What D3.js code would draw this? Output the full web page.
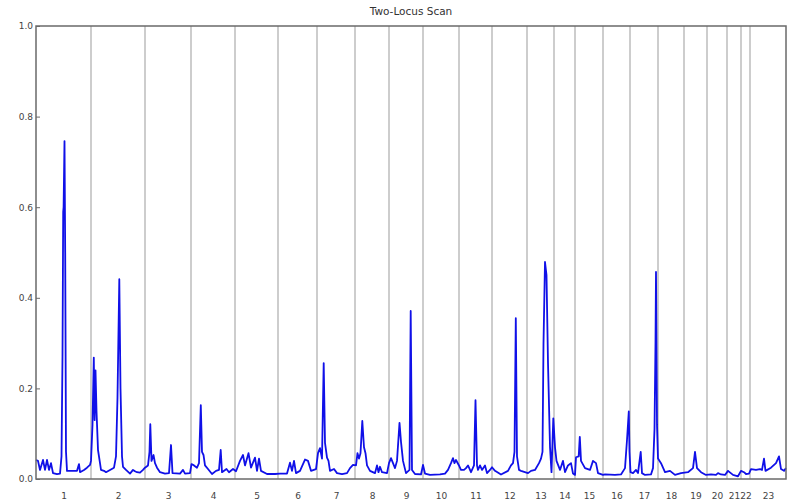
<!DOCTYPE html>
<html>
<head>
<meta charset="utf-8">
<script src="https://cdn.jsdelivr.net/npm/d3@7"></script>
<style>
  body { margin: 0; background: #fff; }
  text { font-family: "DejaVu Sans", sans-serif; }
</style>
</head>
<body>
<div id="chart"></div>
<script>
// chromosomes and number of markers in each one
const chromosomes = ["1","2","3","4","5","6","7","8","9","10","11","12","13","14","15","16","17","18","19","20","21","22","23"];
const chromSizes = [55,54,46,44,43,39,38,34,34,36,33,35,27,21,28,27,28,26,23,20,14,9,36];

const yTicks = [0.0, 0.2, 0.4, 0.6, 0.8, 1.0];

// scan result: marker position (cumulative) and value, one line per chromosome
const scanPos = [
  0,2,4,7,9,11,13,15,17,21,24,25.5,26.5,27.2,27.6,28.5,29.2,30,31,41,43,44,48,51,54,
  55,56.5,57.8,58.6,59.5,60.5,62,64,65,68,70,74,78,80,81.5,83.3,84.5,86,87,90,94,97,99,101,104,107,109,
  112,113.5,114.3,115.5,117.5,119,121,124,129,133,135,136.5,144,147,149,154,
  155.5,158,161,163,164.8,166,167.5,169,172,176,180,183,184.7,186,190.5,193,197,200,
  204,207,209,212.5,215,219,221,223,225,231,239,244,
  251,254,256,258,260,264,269,272,275,280,
  282,284,286,287.7,289,291,292.5,294,298,301,306,311,314,317,
  320,321.5,323,324.5,326.3,328,329.5,331,334,339,341,342.5,344,346,351,
  353,355,357,359,361,363.5,365,367,370,373.5,374.7,376,379,385,387,
  389,394,404,409,412,415,417,418.5,420,422.7,
  425,428,430,432,435,438,439.5,441,442,444,446,449,451,454,456,
  459,465,472,475,477,478.5,479.8,481,483,485,492,
  495,499,503,505,506.5,507.5,509,510.5,512,514,515.5,517.3,
  519,520.5,524,527,529,532,535,537,539,
  540,542.7,543.8,545,549,554,557,560,562,567,
  569,579,585,589,591,592.8,593.5,594.5,
  597,600,602,604.7,606,609,615,617,618.5,619.5,620,621,622,
  625,629,634,639,645,
  652,657,659,661,665,670,
  675,680,682,685,689,
  692,697,702,
  705,708,710,713,
  715,720,724,726,728,729.5,735,740,743,745,748,750
];
const scanValue = [
  0.042,0.040,0.020,0.042,0.020,0.042,0.020,0.035,0.013,0.011,0.012,0.050,0.270,0.590,0.600,0.746,0.500,0.060,0.018,0.018,0.033,0.015,0.020,0.025,0.031,
  0.040,0.120,0.268,0.130,0.240,0.150,0.064,0.035,0.020,0.018,0.015,0.020,0.025,0.050,0.180,0.441,0.200,0.050,0.027,0.020,0.012,0.020,0.017,0.015,0.014,0.020,0.025,
  0.030,0.060,0.121,0.040,0.053,0.035,0.025,0.015,0.012,0.013,0.075,0.013,0.012,0.020,0.012,0.013,
  0.033,0.030,0.025,0.035,0.163,0.060,0.053,0.030,0.022,0.011,0.018,0.020,0.064,0.015,0.022,0.015,0.022,0.017,
  0.040,0.053,0.030,0.057,0.025,0.047,0.018,0.045,0.018,0.011,0.011,0.012,
  0.012,0.036,0.018,0.040,0.013,0.018,0.043,0.040,0.018,0.022,
  0.057,0.068,0.045,0.256,0.080,0.047,0.040,0.018,0.022,0.013,0.011,0.013,0.024,0.031,
  0.030,0.057,0.045,0.057,0.128,0.070,0.057,0.030,0.018,0.013,0.030,0.015,0.027,0.015,0.013,
  0.035,0.046,0.035,0.024,0.040,0.124,0.082,0.040,0.013,0.020,0.371,0.020,0.011,0.010,0.031,
  0.012,0.009,0.010,0.012,0.020,0.035,0.046,0.035,0.042,0.031,
  0.020,0.020,0.024,0.030,0.015,0.030,0.174,0.030,0.020,0.030,0.020,0.030,0.013,0.020,0.026,
  0.018,0.010,0.018,0.030,0.035,0.060,0.355,0.050,0.020,0.018,0.013,
  0.018,0.020,0.035,0.045,0.060,0.300,0.479,0.450,0.256,0.071,0.015,0.134,
  0.070,0.040,0.020,0.040,0.015,0.030,0.035,0.012,0.009,
  0.048,0.050,0.093,0.040,0.024,0.020,0.040,0.035,0.013,0.009,
  0.010,0.009,0.010,0.024,0.086,0.149,0.060,0.015,
  0.013,0.020,0.013,0.060,0.013,0.009,0.010,0.024,0.110,0.300,0.457,0.120,0.045,
  0.035,0.015,0.018,0.009,0.013,
  0.015,0.024,0.060,0.024,0.015,0.009,
  0.010,0.009,0.013,0.010,0.009,
  0.018,0.009,0.006,
  0.018,0.015,0.011,0.012,
  0.022,0.020,0.022,0.020,0.045,0.018,0.025,0.035,0.050,0.022,0.018,0.024
];

const config = { div: "#chart", width: 750, height: 453, top: 26, right: 2, bottom: 23, left: 36 };

const svg = d3.select(config.div)
  .append("svg")
  .attr("width", config.width + config.left + config.right)
  .attr("height", config.height + config.top + config.bottom);

const g = svg.append("g")
  .attr("transform", `translate(${config.left},${config.top})`);

// boundaries between chromosomes and their midpoints
const bounds = [0];
chromSizes.forEach(s => bounds.push(bounds[bounds.length - 1] + s));
const centers = chromSizes.map((s, i) => bounds[i] + s / 2);

const xScale = d3.scaleLinear().domain([0, bounds[bounds.length - 1]]).range([0, config.width]);
const yScale = d3.scaleLinear().domain([0, 1]).range([config.height, 0]);

// vertical lines at chromosome boundaries
g.append("g")
  .selectAll("line")
  .data(bounds.slice(1, -1))
  .join("line")
  .attr("x1", d => xScale(d)).attr("x2", d => xScale(d))
  .attr("y1", 0).attr("y2", config.height)
  .attr("stroke", "#bdbdbd")
  .attr("stroke-width", 1.5);

// scan line
const points = scanPos.map((p, i) => [p, scanValue[i]]);
g.append("path")
  .datum(points)
  .attr("fill", "none")
  .attr("stroke", "#1010e8")
  .attr("stroke-width", 1.8)
  .attr("stroke-linejoin", "round")
  .attr("d", d3.line().x(d => xScale(d[0])).y(d => yScale(d[1])));

// frame
g.append("rect")
  .attr("width", config.width).attr("height", config.height)
  .attr("fill", "none")
  .attr("stroke", "#6a6a6a")
  .attr("stroke-width", 1.5);

// axes
const yAxis = d3.axisLeft(yScale).tickValues(yTicks).tickFormat(d3.format(".1f")).tickSize(-4).tickPadding(3);
const xAxis = d3.axisBottom(xScale).tickValues(centers).tickFormat((d, i) => chromosomes[i]).tickSize(0).tickPadding(14);

const yg = g.append("g").call(yAxis);
const xg = g.append("g").attr("transform", `translate(0,${config.height})`).call(xAxis);

[yg, xg].forEach(a => {
  a.select(".domain").remove();
  a.selectAll(".tick line").attr("stroke", "#6a6a6a");
  a.selectAll("text").attr("fill", "#444").attr("font-size", 9).attr("font-family", "DejaVu Sans, sans-serif");
});

svg.append("text")
  .attr("x", config.left + config.width / 2)
  .attr("y", 15)
  .attr("text-anchor", "middle")
  .attr("font-size", 10.5)
  .attr("fill", "#333")
  .text("Two-Locus Scan");
</script>
</body>
</html>
